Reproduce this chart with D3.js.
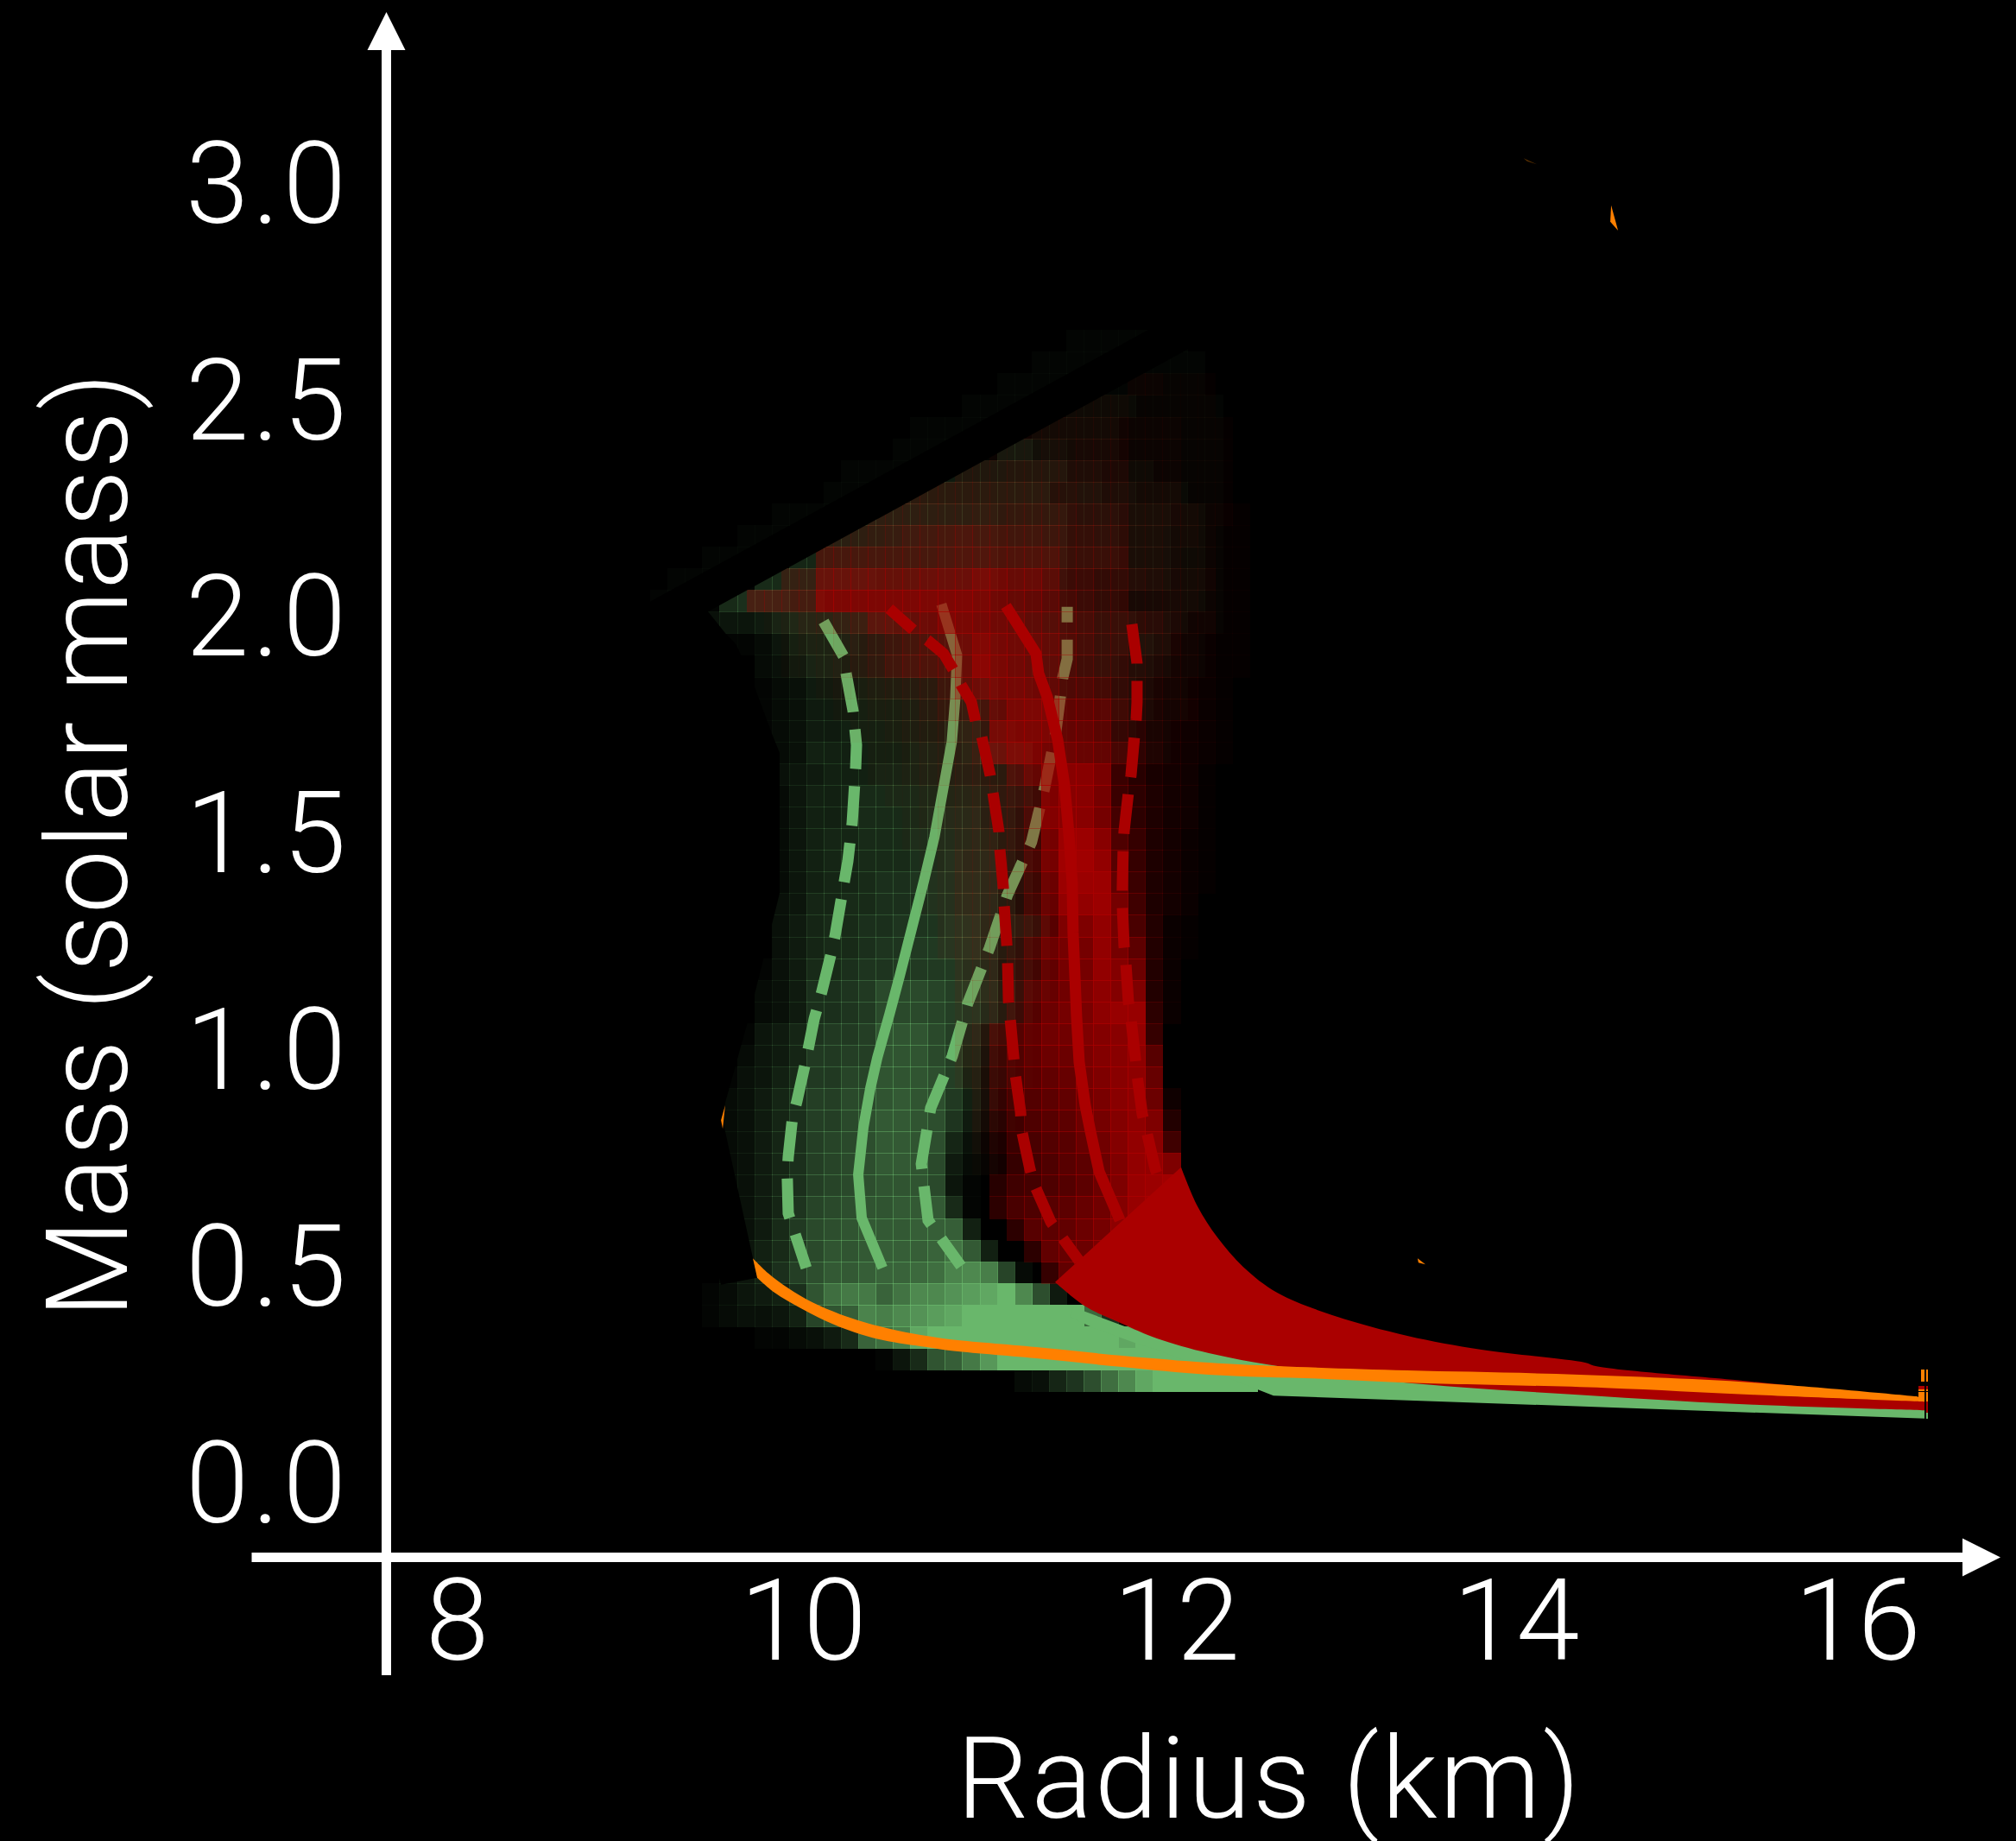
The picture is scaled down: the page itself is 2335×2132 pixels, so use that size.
<!DOCTYPE html>
<html>
<head>
<meta charset="utf-8">
<title>Mass radius</title>
<script src="https://cdn.jsdelivr.net/npm/d3@7"></script>
<style>
    html, body { margin: 0; padding: 0; background: #000; overflow: hidden; }
    text { font-family: Roboto, "Liberation Sans", sans-serif; font-weight: 300; fill: #fff; }
</style>
</head>
<body>
<div id="chart"></div>
<script>
const radiusTicks = [8, 10, 12, 14, 16];
const massTicks = [0, 0.5, 1, 1.5, 2, 2.5, 3];

// probability grids, one string per mass bin from the top, one character per radius bin (0-z)
const massTop = 2.65, massStep = 0.05, radiusStep = 0.1;
const greenStart = 9.0, redStart = 9.056;
const greenRows = [
    "00000000000000000000000011111110000",
    "00000000000000000000001111111111000",
    "00000000000000000000111111111111000",
    "00000000000000000011111122221111100",
    "00000000000000011111112222211111100",
    "00000000000000111111553322211111100",
    "00000000000111115555555533222111100",
    "00000000001111666666666444332221100",
    "00000001111177777777666644433322100",
    "00000111117777777777666644433322100",
    "00011111777777777777666644433322100",
    "01111188888887777777555533333322100",
    "11118999885555555555444433322222100",
    "00034457888888765555555544443321100",
    "00001124677766666666555544444311000",
    "00000023577666666666555544433211000",
    "00000012355566666667554433332110000",
    "00000012355566666676555322332110000",
    "00000012355666666886644322221100000",
    "00000012366666677789883222221100000",
    "00000003456667777776653000000000000",
    "00000002466788888887653000000000000",
    "00000002466788889997642000000000000",
    "00000002467788899998642000000000000",
    "00000002467788899a99642000000000000",
    "000000024677899aaaa9642000000000000",
    "0000000347788999aaa9632000000000000",
    "00000003578899aaabb9764000000000000",
    "0000000357889aabbbb9642000000000000",
    "000000135889aabbbba9542000000000000",
    "00000023599abeeedcca642000000000000",
    "00000023599abeeedcb9631000000000000",
    "000001457abbcgggec95310000000000000",
    "000002457bbccgggec84210000000000000",
    "000013468bbddgggfc73210000000000000",
    "000023579cceeghgfb63100000000000000",
    "000023579ccefhhgfa52100000000000000",
    "000023579cdefhhgf731000000000000000",
    "000023579cdefhhge521000000000000000",
    "000023579cdefggge410000000000000000",
    "00002357adefgghhh810000000000000000",
    "00002358befghhhiii60000000000000000",
    "00002468begghiiijmh6000000000000000",
    "00002469cfhhijjklpqod20000000000000",
    "000124569glnnjmqqsuwzqf500000000000",
    "000123346dgipoqsuwzzzzzzzk920000000",
    "000000112358jlowzzzzzzzzzzzwzzzzzzz",
    "0000000000000148gintzzzzzzzzzzzzzzz",
    "000000000000000000000237aflqwzzzzzz"
];
const redRows = [
    "00000000000000000000000000000000000",
    "00000000000000000000000000000000000",
    "00000000000000000000000000022111000",
    "00000000000000000000000222211111000",
    "00000000000000000000033333322211100",
    "00000000000000000002223344422211100",
    "00000000000000000444555555522211100",
    "00000000000000666666666655533311100",
    "00000000000066666677888877744432210",
    "00000000055678abcdccbba998844332110",
    "000000000cccccccdeeeeeeaaaa44322110",
    "000000077jjjjjjkkknmkkhbb9965433110",
    "00000bbbbpppppppppomkjhdb9944432110",
    "000000124579ghjlponmkigedaa87533110",
    "0000000122357aceglqnmkjfdaa55532110",
    "0000000112357bdefksomkieca965432110",
    "0000000001223456ailnnmjffd965432100",
    "000000000011223589cjoppjjic75442100",
    "0000000000011234568npppkkia85432100",
    "0000000000001123458kopnmlke96432100",
    "00000000000011234566ekrsspc85431000",
    "000000000000011234579cqssoc96431000",
    "000000000000001234578erssoe96431000",
    "000000000000001124568cowwsgb6421000",
    "000000000000000125567eoxxuib6421000",
    "000000000000000125567cmwwwkc6421000",
    "000000000000000125556dluuwod6420000",
    "000000000000000024557aiqquof7210000",
    "000000000000000024558fmoouoj7210000",
    "000000000000000003459dkoourm7200000",
    "00000000000000000345ahlnqtrq7200000",
    "00000000000000000235bhmoptvv9200000",
    "0000000000000000035dhknnqrsub000000",
    "0000000000000000034cgjmmprsti000000",
    "0000000000000000024bfikloqstl000000",
    "0000000000000000003aehjknpstm300000",
    "00000000000000000038dgijmortq700000",
    "00000000000000000026cfhilnrusd00000",
    "00000000000000000014begijmquuq00000",
    "00000000000000000008deghjmqvwx00000",
    "00000000000000000009fgijlnrvxz00000",
    "000000000000000000009ijkmotxz000000",
    "0000000000000000000009klmpzzz000000",
    "0000000000000000000000bkkkk00000000",
    "00000000000000000000000000000000000",
    "00000000000000000000000000000000000",
    "00000000000000000000000000000000000",
    "00000000000000000000000000000000000",
    "00000000000000000000000000000000000"
];

// radius, mass
const greenSolid = [[10.68,2.017],[10.77,1.90],[10.76,1.80],[10.74,1.70],[10.69,1.59],[10.64,1.48],[10.58,1.38],[10.51,1.27],[10.44,1.16],[10.38,1.07],[10.31,0.97],[10.27,0.90],[10.23,0.81],[10.20,0.70],[10.22,0.60],[10.34,0.485]];
const greenDashLow = [[10.00,1.977],[10.115,1.897],[10.13,1.857],[10.17,1.771],[10.19,1.692],[10.185,1.638],[10.165,1.512],[10.14,1.424],[10.105,1.343],[10.065,1.249],[10.045,1.213],[9.99,1.123],[9.946,1.06],[9.896,0.96],[9.846,0.87],[9.82,0.83],[9.796,0.741],[9.79,0.701],[9.796,0.611],[9.826,0.575],[9.90,0.485]];
const greenDashHigh = [[11.406,2.011],[11.406,1.891],[11.38,1.847],[11.34,1.721],[11.276,1.594],[11.20,1.468],[11.06,1.345],[10.957,1.223],[10.833,1.097],[10.743,0.974],[10.618,0.854],[10.564,0.725],[10.603,0.595],[10.793,0.489]];
const redSolid = [[11.052,2.013],[11.226,1.903],[11.241,1.857],[11.291,1.803],[11.351,1.704],[11.391,1.598],[11.416,1.484],[11.435,1.373],[11.44,1.259],[11.46,1.064],[11.475,0.96],[11.51,0.86],[11.54,0.80],[11.59,0.707],[11.71,0.595]];
const redDashLow = [[10.379,2.007],[10.519,1.957],[10.603,1.933],[10.693,1.903],[10.753,1.863],[10.793,1.831],[10.853,1.791],[10.877,1.747],[10.912,1.712],[10.962,1.622],[10.977,1.582],[11.012,1.492],[11.017,1.452],[11.037,1.363],[11.042,1.323],[11.057,1.233],[11.062,1.193],[11.067,1.103],[11.077,1.06],[11.097,0.972],[11.107,0.93],[11.137,0.844],[11.142,0.804],[11.191,0.713],[11.216,0.677],[11.311,0.591],[11.366,0.561],[11.475,0.501]];
const redDashHigh = [[11.779,1.971],[11.809,1.881],[11.809,1.791],[11.804,1.751],[11.794,1.712],[11.774,1.622],[11.759,1.582],[11.734,1.492],[11.729,1.452],[11.724,1.363],[11.724,1.323],[11.734,1.229],[11.744,1.191],[11.759,1.10],[11.774,1.06],[11.799,0.97],[11.809,0.93],[11.839,0.84],[11.864,0.80],[11.914,0.713],[11.973,0.651]];

// bands: upper edge left to right, lower edge right to left
const redBandTop = [[12.063,0.717],[12.158,0.627],[12.273,0.555],[12.422,0.487],[12.62,0.427],[12.935,0.376],[13.369,0.328],[13.797,0.296],[14.395,0.266],[14.455,0.258],[15.367,0.222],[16.313,0.184],[16.358,0.184]];
const redBandBottom = [[16.358,0.156],[15.367,0.169],[14.51,0.188],[13.309,0.222],[12.621,0.258],[12.223,0.288],[11.924,0.322],[11.724,0.356],[11.51,0.396],[11.336,0.452]];
const greenBand = [[11.421,0.372],[11.44,0.394],[11.724,0.352],[11.974,0.316],[12.387,0.276],[12.721,0.256],[16.358,0.162],[16.358,0.137],[12.596,0.19],[12.507,0.204],[11.924,0.296],[11.809,0.31],[11.56,0.346]];
const orangeTop = [[9.592,0.507],[9.682,0.472],[9.796,0.438],[9.931,0.406],[10.095,0.378],[10.265,0.356],[10.429,0.34],[10.593,0.328],[10.728,0.32],[11.226,0.302],[11.724,0.282],[12.223,0.266],[12.621,0.258],[13.369,0.248],[14.226,0.24],[15.367,0.22],[16.313,0.188]];
const orangeBottom = [[16.358,0.176],[15.367,0.192],[14.51,0.208],[13.369,0.22],[12.92,0.228],[12.223,0.238],[11.724,0.256],[11.226,0.276],[10.728,0.294],[10.593,0.302],[10.344,0.318],[10.18,0.336],[10.015,0.362],[9.866,0.392],[9.716,0.428],[9.617,0.462]];
const blackRegion = [[12.322,2.748],[8.999,2.023],[8.999,1.977],[9.183,1.977],[9.183,0.787],[9.408,0.446],[9.617,0.462],[9.418,0.826],[9.432,0.866],[9.567,1.06],[9.746,1.349],[9.746,1.674],[9.697,1.723],[9.597,1.831],[9.497,1.923],[9.432,1.951],[9.333,2.0],[12.322,2.654]];
const orangeSpecks = [
    [[9.432,0.86],[9.408,0.826],[9.418,0.806],[9.423,0.826]],
    [[13.428,0.507],[13.473,0.493],[13.433,0.497]],
    [[14.545,2.938],[14.585,2.88],[14.54,2.90]]
];
const dimSpeck = [[14.04,3.047],[14.116,3.033],[14.06,3.04]];
// r0, r1, m0, m1
const tailOrange = [[16.333,16.353,0.25,0.222],[16.363,16.374,0.25,0.222],[16.318,16.374,0.204,0.2],[16.318,16.374,0.198,0.176]];
const tailRed = [[16.318,16.374,0.212,0.204],[16.363,16.374,0.176,0.15]];
const tailGreen = [[16.363,16.374,0.15,0.137]];
const tailGap = [[16.353,16.363,0.222,0.136]];

const width = 2335, height = 2132;
const greenColor = "#69b76b", redColor = "#aa0000", orangeColor = "#ff8000";
const labelSize = 132;

const x = d3.scaleLinear().domain([8, 16]).range([552.5, 2158.1]);
const y = d3.scaleLinear().domain([0, 3]).range([1711.5, 206.7]);

const svg = d3.select("#chart").append("svg")
    .attr("width", width)
    .attr("height", height)
    .style("display", "block")
    .style("background", "#000");

const toPath = d3.line().x(d => x(d[0])).y(d => y(d[1]));
const toSmooth = d3.line().x(d => x(d[0])).y(d => y(d[1])).curve(d3.curveCatmullRom);

function cells(rows, start, color) {
    const data = [];
    rows.forEach((row, i) => {
        for (let j = 0; j < row.length; j++) {
            const v = parseInt(row[j], 36);
            if (v > 0) data.push({ i: i, j: j, a: v / 35 });
        }
    });
    // cells overlap by one pixel, this gives the light seams of the grid
    svg.append("g")
        .attr("shape-rendering", "crispEdges")
        .selectAll("rect")
        .data(data)
        .enter().append("rect")
        .attr("x", d => Math.round(x(start + d.j * radiusStep)))
        .attr("y", d => Math.round(y(massTop - d.i * massStep)))
        .attr("width", d => Math.round(x(start + (d.j + 1) * radiusStep)) - Math.round(x(start + d.j * radiusStep)) + 1)
        .attr("height", d => Math.round(y(massTop - (d.i + 1) * massStep)) - Math.round(y(massTop - d.i * massStep)) + 1)
        .attr("fill", color)
        .attr("fill-opacity", d => d.a);
}

function curve(points, color, w, dash, offset) {
    const p = svg.append("path")
        .attr("d", toPath(points))
        .attr("fill", "none")
        .attr("stroke", color)
        .attr("stroke-width", w);
    if (dash) p.attr("stroke-dasharray", dash).attr("stroke-dashoffset", offset || 0);
}

function area(points, color) {
    svg.append("path").attr("d", toPath(points) + "Z").attr("fill", color);
}

function band(top, bottom, color) {
    svg.append("path")
        .attr("d", toSmooth(top) + toSmooth(bottom).replace("M", "L") + "Z")
        .attr("fill", color);
}

function blocks(list, color) {
    svg.append("g")
        .attr("shape-rendering", "crispEdges")
        .selectAll("rect")
        .data(list)
        .enter().append("rect")
        .attr("x", d => x(d[0]))
        .attr("y", d => y(d[2]))
        .attr("width", d => x(d[1]) - x(d[0]))
        .attr("height", d => y(d[3]) - y(d[2]))
        .attr("fill", color);
}

cells(greenRows, greenStart, greenColor);
curve(greenSolid, greenColor, 12);
curve(greenDashLow, greenColor, 13, "46 20");
curve(greenDashHigh, greenColor, 13, "46 20", 28);
area(greenBand, greenColor);

cells(redRows, redStart, redColor);
curve(redSolid, redColor, 13);
curve(redDashLow, redColor, 13, "46 20", 9);
curve(redDashHigh, redColor, 13, "46 20");
band(redBandTop, redBandBottom, redColor);

area(blackRegion, "#000");
band(orangeTop, orangeBottom, orangeColor);
orangeSpecks.forEach(s => area(s, orangeColor));
area(dimSpeck, "#5a3000");
blocks(tailOrange, orangeColor);
blocks(tailRed, redColor);
blocks(tailGreen, greenColor);
blocks(tailGap, "#000");

// axes
const axisX = 447.5, axisY = 1803.5, axisW = 11;
svg.append("line").attr("x1", axisX).attr("x2", axisX).attr("y1", 50).attr("y2", 1940)
    .attr("stroke", "#fff").attr("stroke-width", axisW);
svg.append("line").attr("x1", 291.5).attr("x2", 2280).attr("y1", axisY).attr("y2", axisY)
    .attr("stroke", "#fff").attr("stroke-width", axisW);
svg.append("path").attr("d", d3.line()([[axisX, 14], [axisX + 22, 58], [axisX - 22, 58]]) + "Z").attr("fill", "#fff");
svg.append("path").attr("d", d3.line()([[2317, axisY], [2273, axisY - 22], [2273, axisY + 22]]) + "Z").attr("fill", "#fff");

const yAxis = svg.append("g")
    .attr("transform", "translate(405,0)")
    .call(d3.axisLeft(y).tickValues(massTicks).tickFormat(d3.format(".1f")).tickSize(0).tickPadding(0));
yAxis.select(".domain").remove();
yAxis.selectAll("text")
    .style("font-size", labelSize + "px")
    .style("letter-spacing", "4px")
    .attr("dy", "0.383em");

const xNudge = { 8: -23.5, 10: -24, 12: 7, 14: -1, 16: -7 };
const xAxis = svg.append("g")
    .attr("transform", "translate(0,1922)")
    .call(d3.axisBottom(x).tickValues(radiusTicks).tickFormat(d3.format("d")).tickSize(0).tickPadding(0));
xAxis.select(".domain").remove();
xAxis.selectAll("text")
    .style("font-size", labelSize + "px")
    .attr("y", 0)
    .attr("dy", 0)
    .attr("dx", d => xNudge[d]);

svg.append("text")
    .attr("x", 1469)
    .attr("y", 2105)
    .attr("text-anchor", "middle")
    .attr("textLength", 722)
    .style("font-size", labelSize + "px")
    .text("Radius (km)");

svg.append("text")
    .attr("transform", "translate(147,979) rotate(-90)")
    .attr("text-anchor", "middle")
    .attr("textLength", 1095)
    .style("font-size", labelSize + "px")
    .text("Mass (solar mass)");
</script>
</body>
</html>
